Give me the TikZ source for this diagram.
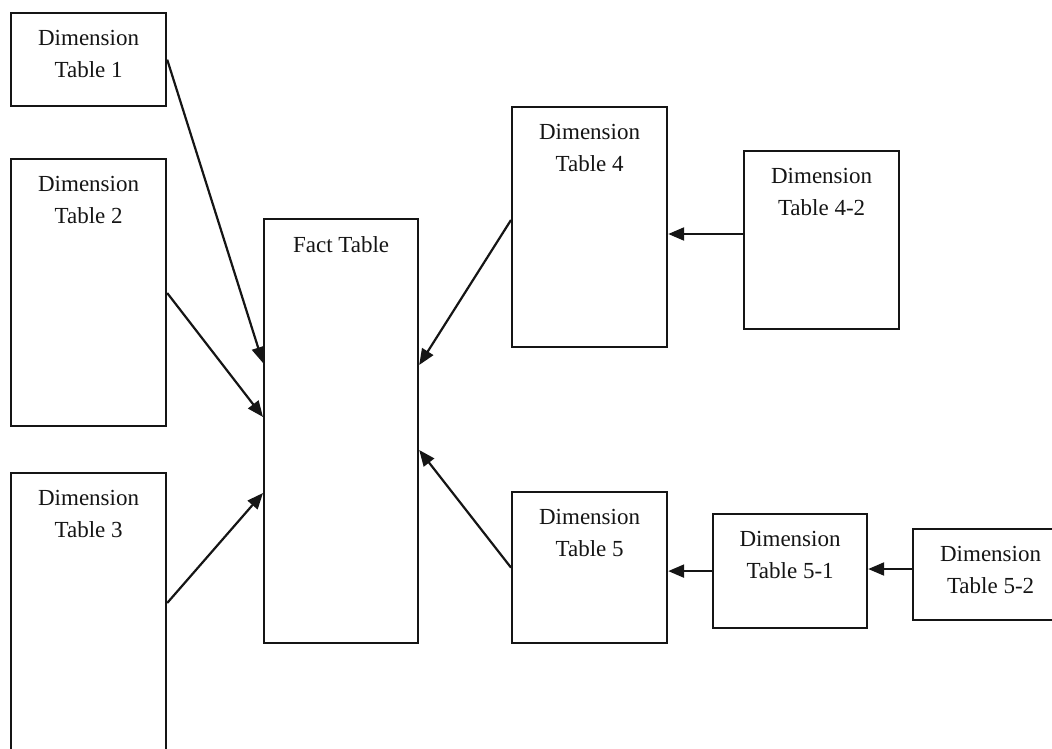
\documentclass[tikz,border=0pt]{standalone}
\usepackage{fontspec}
\setmainfont{Liberation Serif}
\usetikzlibrary{arrows.meta,calc}

\definecolor{ink}{HTML}{151515}

\tikzset{
  x=1pt, y=-1pt,
  tablebox/.style={draw=ink, line width=2.2pt, fill=white, rectangle,
    inner sep=0pt, anchor=north west},
  tablelabel/.style={text=ink, inner sep=0pt, anchor=north, align=center,
    font=\fontsize{23}{32}\selectfont},
  link/.style={draw=ink, line width=2.2pt,
    -{Triangle[length=16pt,width=13pt]}},
}

\begin{document}
\begin{tikzpicture}
  \useasboundingbox (0,0) rectangle (1052,749);
  \clip (0,0) rectangle (1052,749);

  % tables
  \node[tablebox, minimum width=155pt, minimum height=93pt]  (d1)   at (10,12)   {};
  \node[tablebox, minimum width=155pt, minimum height=267pt] (d2)   at (10,158)  {};
  \node[tablebox, minimum width=155pt, minimum height=300pt] (d3)   at (10,472)  {};
  \node[tablebox, minimum width=154pt, minimum height=424pt] (fact) at (263,218) {};
  \node[tablebox, minimum width=155pt, minimum height=240pt] (d4)   at (511,106) {};
  \node[tablebox, minimum width=155pt, minimum height=178pt] (d42)  at (743,150) {};
  \node[tablebox, minimum width=155pt, minimum height=151pt] (d5)   at (511,491) {};
  \node[tablebox, minimum width=154pt, minimum height=114pt] (d51)  at (712,513) {};
  \node[tablebox, minimum width=155pt, minimum height=91pt]  (d52)  at (912,528) {};

  % table titles
  \node[tablelabel] (d1t)   at ($(d1.north)+(0,18)$)   {Dimension\\Table 1};
  \node[tablelabel] (d2t)   at ($(d2.north)+(0,18)$)   {Dimension\\Table 2};
  \node[tablelabel] (d3t)   at ($(d3.north)+(0,18)$)   {Dimension\\Table 3};
  \node[tablelabel] (factt) at ($(fact.north)+(0,18)$) {Fact Table};
  \node[tablelabel] (d4t)   at ($(d4.north)+(0,18)$)   {Dimension\\Table 4};
  \node[tablelabel] (d42t)  at ($(d42.north)+(0,18)$)  {Dimension\\Table 4-2};
  \node[tablelabel] (d5t)   at ($(d5.north)+(0,18)$)   {Dimension\\Table 5};
  \node[tablelabel] (d51t)  at ($(d51.north)+(0,18)$)  {Dimension\\Table 5-1};
  \node[tablelabel] (d52t)  at ($(d52.north)+(0,18)$)  {Dimension\\Table 5-2};

  % references into the fact table
  \draw[link] (d1.east) -- ($(fact.north west)+(0,145)$);
  \draw[link] ($(d2.north east)+(0,135)$) -- ($(fact.north west)+(0,199)$);
  \draw[link] ($(d3.north east)+(0,131)$) -- ($(fact.north west)+(0,275)$);
  \draw[link] ($(d4.north west)+(0,114)$) -- ($(fact.north east)+(0,147)$);
  \draw[link] (d5.west) -- ($(fact.north east)+(0,232)$);

  % snowflake chains
  \coordinate (d42out) at ($(d42.north west)+(0,84)$);
  \draw[link] (d42out) -- (d42out -| d4.east);
  \draw[link] (d51.west) -- (d51.west -| d5.east);
  \coordinate (d52out) at ($(d52.north west)+(0,41)$);
  \draw[link] (d52out) -- (d52out -| d51.east);
\end{tikzpicture}
\end{document}
